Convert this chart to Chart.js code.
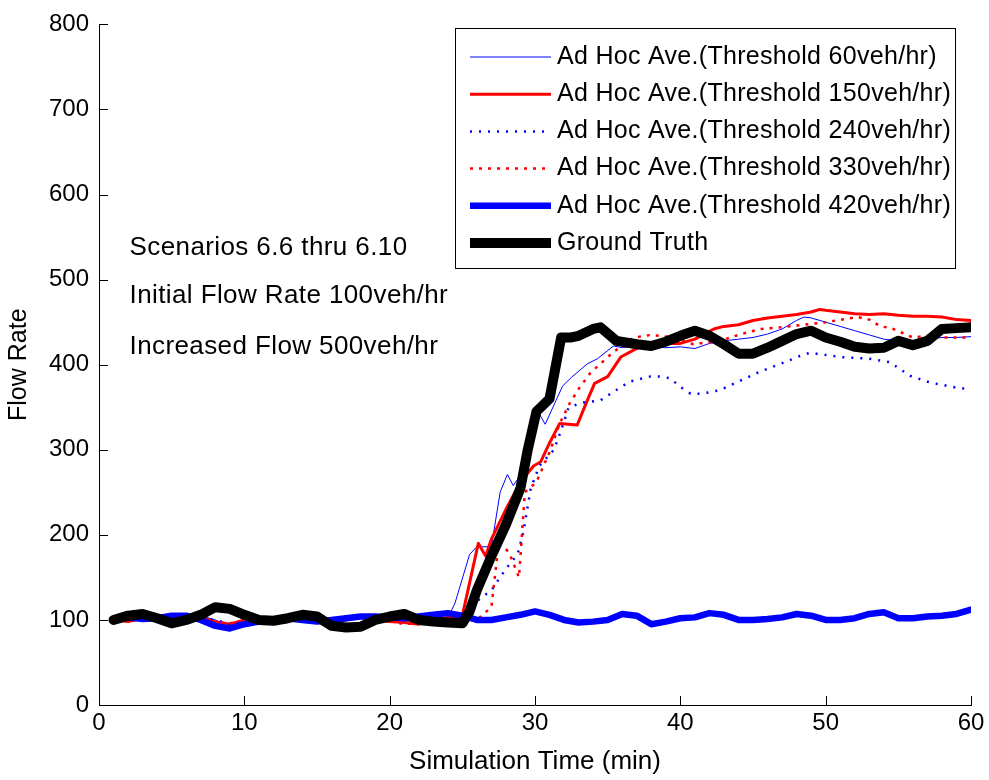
<!DOCTYPE html>
<html lang="en">
<head>
    <meta charset="UTF-8">
    <title>Flow Rate vs Simulation Time</title>
    <script src="https://cdn.jsdelivr.net/npm/chart.js"></script>
    <style>
        body { margin: 0; background: #fff; }
        canvas { display: block; }
    </style>
</head>
<body>
    <canvas id="flowChart" width="989" height="780"></canvas>

    <script>
        // Ticks
        const xTicks = [0, 10, 20, 30, 40, 50, 60];
        const yTicks = [0, 100, 200, 300, 400, 500, 600, 700, 800];

        // Ad Hoc Ave. threshold 60veh/hr
        const t60 = [1,2,3,4,5,6,7,8,9,10,11,12,13,14,15,16,17,18,19,20,21,22,23,24,24.5,25.5,26,27,27.6,28.1,28.5,29,29.5,30.2,30.7,31.9,32.5,33.6,34.3,35.4,36,37,38,39,40,41,42,43,44,45,46,47,48,48.5,49,50,51,52,53,54,55,56,57,58,59,60];
        const v60 = [105,100,103,100,98,103,105,100,92,97,100,98,102,100,97,100,103,102,100,104,102,100,103,102,120,177,186,186,250,271,258,270,300,345,330,375,385,401,407,422,420,422,421,420,421,419,425,428,430,432,436,442,452,456,455,450,445,440,435,430,428,428,430,432,432,433];

        // Ad Hoc Ave. threshold 150veh/hr
        const t150 = [1,2,3,4,5,6,7,8,9,10,11,12,13,14,15,16,17,18,19,20,21,22,23,24,25,26.1,26.6,27,28,29,29.9,30.4,31,31.7,32.9,33.6,34.1,35,35.9,37.2,38,39,40,41,42.3,43,44,45,46,47,48,49,49.6,50,51,52,53,54,55,56,57,58,59,60];
        const v150 = [100,98,102,100,97,100,103,98,95,100,98,102,105,100,98,97,100,103,100,98,97,95,100,103,105,190,175,195,230,262,281,286,308,331,329,358,378,386,409,421,425,425,425,430,442,445,447,452,455,457,459,462,465,464,462,460,459,460,458,457,457,456,453,452];

        // Ad Hoc Ave. threshold 240veh/hr
        const t240 = [1,2,3,4,5,6,7,8,9,10,11,12,13,14,15,16,17,18,19,20,21,22,23,24,25,26,27,28,28.8,29.2,29.7,30.3,31.3,31.8,32.3,33.1,34.5,35.2,36.5,37.9,38.6,39.3,40,40.7,41.5,42.7,44.1,45.5,46.9,48.2,48.9,51,53,54.4,55.8,57.2,59.3,60];
        const v240 = [98,102,100,103,100,98,102,100,95,98,100,102,100,98,100,99,101,103,100,102,100,98,101,100,100,122,135,160,177,203,254,281,300,323,349,355,358,366,380,386,386,384,374,366,366,370,381,392,401,410,414,409,407,403,387,379,372,372];

        // Ad Hoc Ave. threshold 330veh/hr
        const t330 = [1,2,3,4,5,6,7,8,9,10,11,12,13,14,15,16,17,18,19,20,21,22,23,24,25,26,27,27.5,28.2,28.9,29.3,30.1,31,31.7,32.4,33.1,33.8,34.3,35.4,36.8,38,39.5,40.9,42.7,44,45.5,46.9,48,50,52.2,53,53.8,54.5,56,57,58,60];
        const v330 = [101,99,100,102,99,100,101,98,96,99,101,100,103,99,98,100,100,102,101,99,95,97,100,101,100,100,115,190,180,150,250,262,297,331,355,374,390,398,415,432,435,432,424,428,435,442,444,446,450,456,453,445,443,432,434,432,432];

        // Ad Hoc Ave. threshold 420veh/hr
        const t420 = [1,2,3,4,5,6,7,8,9,10,11,12,13,14,15,16,17,18,19,20,21,22,23,24,25,26,27,28,29,30,31,32,33,34,35,36,37,38,39,40,41,42,43,44,45,46,47,48,49,50,51,52,53,54,55,56,57,58,59,60];
        const v420 = [100,103,101,102,105,105,100,93,90,95,98,100,102,100,98,100,102,104,104,103,102,104,106,108,105,100,100,103,106,110,106,100,97,98,100,107,105,95,98,102,103,108,106,100,100,101,103,107,105,100,100,102,107,109,102,102,104,105,107,112];

        // Ground truth
        const tTruth = [1,2,3,4,5,6,7,8,9,10,11,12,13,14,15,16,17,18,19,20,21,22,23,24,25,25.5,26,27,28,29,29.5,30.1,31,31.8,32.5,33,34,34.5,35.6,37,38,39,40,41,42,43,44,45,46,47,48,49,50,51,52,53,54,55,56,57,58,59,60];
        const vTruth = [100,105,107,102,96,100,106,115,113,106,100,99,102,106,104,93,91,92,100,104,107,100,98,97,96,110,135,175,212,255,300,345,360,432,432,434,442,444,428,424,422,427,434,440,434,424,413,413,420,428,436,440,432,427,421,419,420,428,423,428,442,443,444];

        const seriesNames = [
            'Ad Hoc Ave.(Threshold 60veh/hr)',
            'Ad Hoc Ave.(Threshold 150veh/hr)',
            'Ad Hoc Ave.(Threshold 240veh/hr)',
            'Ad Hoc Ave.(Threshold 330veh/hr)',
            'Ad Hoc Ave.(Threshold 420veh/hr)',
            'Ground Truth'
        ];
        const notes = ['Scenarios 6.6 thru 6.10', 'Initial Flow Rate 100veh/hr', 'Increased Flow 500veh/hr'];
        const noteY = [537, 481, 421];

        const FONT = "'Liberation Sans', Arial, sans-serif";

        function pts(ts, vs) {
            return ts.map((t, i) => ({ x: t, y: vs[i] }));
        }

        const styles = [
            { color: '#0000ff', width: 1, dash: [] },
            { color: '#ff0000', width: 3, dash: [] },
            { color: '#0000ff', width: 2.5, dash: [2, 7] },
            { color: '#ff0000', width: 2.5, dash: [3, 6] },
            { color: '#0000ff', width: 6.5, dash: [] },
            { color: '#000000', width: 10, dash: [] }
        ];
        const allData = [pts(t60, v60), pts(t150, v150), pts(t240, v240), pts(t330, v330), pts(t420, v420), pts(tTruth, vTruth)];

        const datasets = allData.map((d, i) => ({
            label: seriesNames[i],
            data: d,
            borderColor: styles[i].color,
            borderWidth: styles[i].width,
            borderDash: styles[i].dash,
            borderJoinStyle: 'round',
            borderCapStyle: styles[i].dash.length ? 'butt' : 'round',
            pointRadius: 0,
            tension: 0,
            fill: false,
            order: 5 - i
        }));

        // inward ticks, notes and the boxed legend
        const extras = {
            id: 'extras',
            afterDraw(chart) {
                const ctx = chart.ctx;
                const xs = chart.scales.x, ys = chart.scales.y;
                const area = chart.chartArea;
                ctx.save();
                ctx.strokeStyle = '#000';
                ctx.lineWidth = 1;
                ctx.beginPath();
                xTicks.forEach(v => {
                    const px = Math.round(xs.getPixelForValue(v)) + 0.5;
                    ctx.moveTo(px, area.bottom);
                    ctx.lineTo(px, area.bottom - 9);
                });
                yTicks.forEach(v => {
                    const py = Math.round(ys.getPixelForValue(v)) + 0.5;
                    ctx.moveTo(area.left, py);
                    ctx.lineTo(area.left + 9, py);
                });
                ctx.stroke();

                ctx.fillStyle = '#000';
                ctx.font = '26px ' + FONT;
                ctx.letterSpacing = '0.4px';
                ctx.textBaseline = 'middle';
                ctx.textAlign = 'left';
                notes.forEach((n, i) => {
                    ctx.fillText(n, xs.getPixelForValue(2.1), ys.getPixelForValue(noteY[i]));
                });

                // legend box
                const bx = 455, by = 28, bw = 500, bh = 240;
                ctx.fillStyle = '#fff';
                ctx.fillRect(bx, by, bw, bh);
                ctx.strokeStyle = '#000';
                ctx.lineWidth = 1;
                ctx.strokeRect(bx + 0.5, by + 0.5, bw, bh);
                ctx.font = '25px ' + FONT;
                ctx.letterSpacing = '0.3px';
                seriesNames.forEach((name, i) => {
                    const y = 57 + i * 37.2;
                    ctx.save();
                    ctx.strokeStyle = styles[i].color;
                    ctx.lineWidth = styles[i].width;
                    ctx.setLineDash(styles[i].dash);
                    ctx.lineCap = 'butt';
                    ctx.beginPath();
                    ctx.moveTo(470, y);
                    ctx.lineTo(551, y);
                    ctx.stroke();
                    ctx.restore();
                    ctx.fillStyle = '#000';
                    ctx.fillText(name, 557, y);
                });
                ctx.restore();
            }
        };

        new Chart(document.getElementById('flowChart'), {
            type: 'line',
            data: { datasets },
            options: {
                responsive: false,
                animation: false,
                devicePixelRatio: 1,
                layout: { padding: { top: 17, right: 18, left: 0, bottom: 0 } },
                plugins: { legend: { display: false }, tooltip: { enabled: false } },
                scales: {
                    x: {
                        type: 'linear',
                        min: 0, max: 60,
                        afterFit: s => { s.height = 75; },
                        afterBuildTicks: s => { s.ticks = xTicks.map(v => ({ value: v })); },
                        ticks: { color: '#000', font: { family: FONT, size: 24 }, padding: 4, maxRotation: 0 },
                        grid: { display: false, drawTicks: false },
                        border: { display: true, color: '#000', width: 1 },
                        title: { display: true, text: 'Simulation Time (min)', color: '#000', font: { family: FONT, size: 26 }, padding: { top: 0, bottom: 3 } }
                    },
                    y: {
                        min: 0, max: 800,
                        afterFit: s => { s.width = 99; },
                        afterBuildTicks: s => { s.ticks = yTicks.map(v => ({ value: v })); },
                        ticks: { color: '#000', font: { family: FONT, size: 24 }, padding: 10 },
                        grid: { display: false, drawTicks: false },
                        border: { display: true, color: '#000', width: 1 },
                        title: { display: true, text: 'Flow Rate', color: '#000', font: { family: FONT, size: 25 }, padding: { top: 4, bottom: 0 } }
                    }
                }
            },
            plugins: [extras]
        });
    </script>
</body>
</html>
